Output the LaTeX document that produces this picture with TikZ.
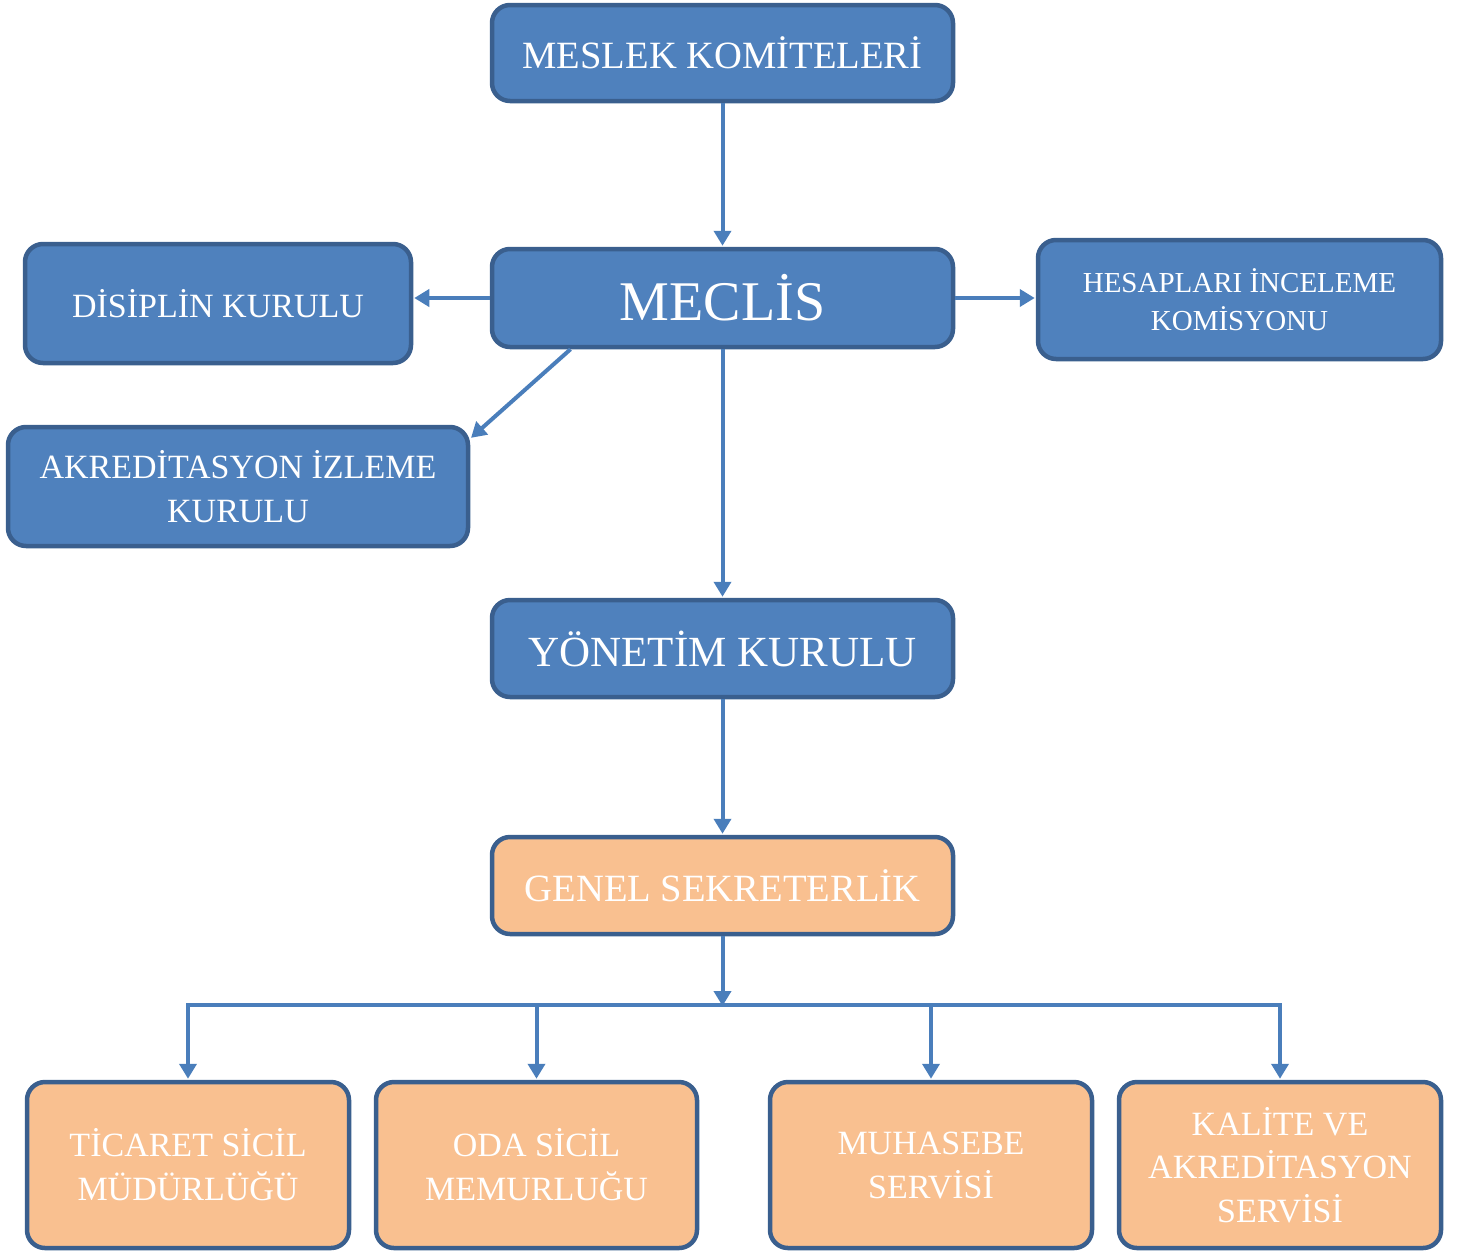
\documentclass[tikz,border=0pt]{standalone}
\usepackage{fontspec}
\setmainfont{Liberation Serif}
\usetikzlibrary{arrows.meta}
\definecolor{blu}{HTML}{4F81BD}
\definecolor{bdr}{HTML}{3A5F8E}
\definecolor{arr}{HTML}{4A7EBB}
\definecolor{org}{HTML}{F9C090}
\tikzset{
  box/.style={draw=bdr, line width=4.5pt, rounded corners=18pt, text=white, align=center, inner sep=0pt},
  bluebox/.style={box, fill=blu},
  orgbox/.style={box, fill=org},
  conn/.style={draw=arr, line width=4pt},
  arrow/.style={conn, -{Triangle[width=17pt,length=15pt]}, shorten >=1pt},
}
\newcommand{\fs}[2]{\fontsize{#1}{#2}\selectfont}
\begin{document}
\begin{tikzpicture}[x=1pt,y=-1pt]
\useasboundingbox (0,0) rectangle (1468,1259);
% top boxes
\node[bluebox, minimum width=461pt, minimum height=96pt, font=\fs{38.6}{46}] (mes) at (722.5,53) {MESLEK KOMİTELERİ};
\node[bluebox, minimum width=461pt, minimum height=98pt, font=\fs{56}{66}] (mec) at (722.5,298) {MECLİS};
\node[bluebox, minimum width=386pt, minimum height=119pt, font=\fs{34}{44}] (dis) at (218,303.5) {DİSİPLİN KURULU};
\node[bluebox, minimum width=403pt, minimum height=119pt, font=\fs{29}{38}] (hes) at (1239.5,299.5) {HESAPLARI İNCELEME\\KOMİSYONU};
\node[bluebox, minimum width=460pt, minimum height=119pt, font=\fs{34}{44}] (akr) at (238,486.5) {AKREDİTASYON İZLEME\\KURULU};
\node[bluebox, minimum width=461pt, minimum height=97pt, font=\fs{43}{52}] (yon) at (722.5,648.5) {YÖNETİM KURULU};
\node[orgbox, minimum width=461pt, minimum height=97pt, font=\fs{38.6}{46}] (gen) at (722.5,885.5) {GENEL SEKRETERLİK};
% bottom boxes
\node[orgbox, minimum width=322pt, minimum height=166pt, font=\fs{34}{44}] (tic) at (188,1165) {TİCARET SİCİL\\MÜDÜRLÜĞÜ};
\node[orgbox, minimum width=321pt, minimum height=166pt, font=\fs{34}{44}] (oda) at (536.5,1165) {ODA SİCİL\\MEMURLUĞU};
\node[orgbox, minimum width=322pt, minimum height=166pt, font=\fs{34}{44}] (muh) at (931,1165) {MUHASEBE\\SERVİSİ};
\node[orgbox, minimum width=322pt, minimum height=166pt, font=\fs{34}{43.5}] (kal) at (1280,1165) {KALİTE VE\\AKREDİTASYON\\SERVİSİ};
% connectors
\draw[arrow] (mes) -- (mec);
\draw[arrow] (mec.west) -- (mec.west -| dis.east);
\draw[arrow] (mec.east) -- (mec.east -| hes.west);
\draw[arrow] ([xshift=-152pt]mec.south) -- ([yshift=48pt]akr.east);
\draw[arrow] (mec) -- (yon);
\draw[arrow] (yon) -- (gen);
\coordinate (bus) at (722.5,1005);
\draw[arrow, shorten >=-1pt] (gen) -- (bus);
\draw[conn] ([xshift=-2pt]bus -| tic.north) -- ([xshift=2pt]bus -| kal.north);
\draw[arrow] (bus -| tic.north) -- (tic);
\draw[arrow] (bus -| oda.north) -- (oda);
\draw[arrow] (bus -| muh.north) -- (muh);
\draw[arrow] (bus -| kal.north) -- (kal);
\end{tikzpicture}
\end{document}
